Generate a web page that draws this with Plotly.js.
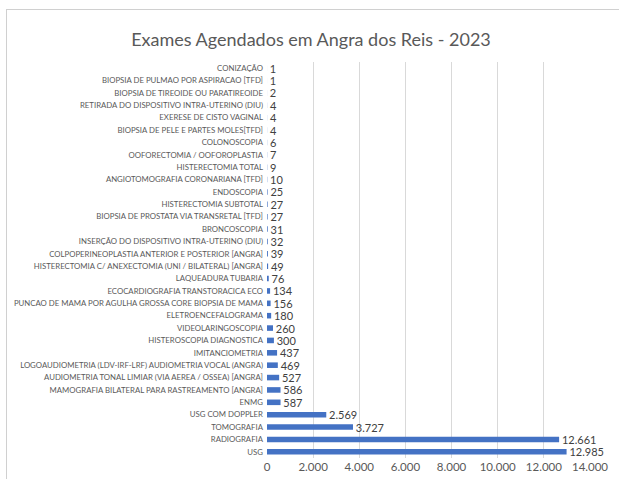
<!DOCTYPE html>
<html>
<head>
<meta charset="utf-8">
<script src="https://cdn.plot.ly/plotly-3.0.1.min.js"></script>
<style>
html,body{margin:0;padding:0;background:#fff;}
#wrap{position:relative;width:619px;height:479px;overflow:hidden;}
#chart{position:absolute;left:0;top:0;width:619px;height:479px;}
#frame{position:absolute;left:6px;top:9px;width:620px;height:480px;border-left:1px solid #d0d0d0;border-top:1px solid #d0d0d0;pointer-events:none;}
</style>
</head>
<body>
<div id="wrap"><div id="chart"></div><div id="frame"></div></div>
<script>
const categories = [
  "CONIZAÇÃO",
  "BIOPSIA DE PULMAO POR ASPIRACAO [TFD]",
  "BIOPSIA DE TIREOIDE OU PARATIREOIDE",
  "RETIRADA DO DISPOSITIVO INTRA-UTERINO (DIU)",
  "EXERESE DE CISTO VAGINAL",
  "BIOPSIA DE PELE E PARTES MOLES[TFD]",
  "COLONOSCOPIA",
  "OOFORECTOMIA / OOFOROPLASTIA",
  "HISTERECTOMIA TOTAL",
  "ANGIOTOMOGRAFIA CORONARIANA [TFD]",
  "ENDOSCOPIA",
  "HISTERECTOMIA SUBTOTAL",
  "BIOPSIA DE PROSTATA VIA TRANSRETAL [TFD]",
  "BRONCOSCOPIA",
  "INSERÇÃO DO DISPOSITIVO INTRA-UTERINO (DIU)",
  "COLPOPERINEOPLASTIA ANTERIOR E POSTERIOR [ANGRA]",
  "HISTERECTOMIA C/ ANEXECTOMIA (UNI / BILATERAL) [ANGRA]",
  "LAQUEADURA TUBARIA",
  "ECOCARDIOGRAFIA TRANSTORACICA ECO",
  "PUNCAO DE MAMA POR AGULHA GROSSA CORE BIOPSIA DE MAMA",
  "ELETROENCEFALOGRAMA",
  "VIDEOLARINGOSCOPIA",
  "HISTEROSCOPIA DIAGNOSTICA",
  "IMITANCIOMETRIA",
  "LOGOAUDIOMETRIA (LDV-IRF-LRF) AUDIOMETRIA VOCAL (ANGRA)",
  "AUDIOMETRIA TONAL LIMIAR (VIA AEREA / OSSEA) [ANGRA]",
  "MAMOGRAFIA BILATERAL PARA RASTREAMENTO [ANGRA]",
  "ENMG",
  "USG COM DOPPLER",
  "TOMOGRAFIA",
  "RADIOGRAFIA",
  "USG"
];
const values = [1,1,2,4,4,4,6,7,9,10,25,27,27,31,32,39,49,76,134,156,180,260,300,437,469,527,586,587,2569,3727,12661,12985];
const xTicks = [0,2000,4000,6000,8000,10000,12000,14000];
const chartTitle = "Exames Agendados em Angra dos Reis - 2023";

const trace = {
  type: 'bar',
  orientation: 'h',
  y: categories,
  x: values,
  marker: {color: '#4472C4'},
  texttemplate: '\u00a0%{x:,d}',
  textposition: 'outside',
  cliponaxis: false,
  constraintext: 'none',
  textfont: {family: 'Lato, sans-serif', size: 11, color: '#404040'},
  hoverinfo: 'none'
};

const layout = {
  width: 619,
  height: 479,
  separators: ',.',
  paper_bgcolor: '#ffffff',
  plot_bgcolor: '#ffffff',
  margin: {l: 267, r: 29, t: 62, b: 21, pad: 0},
  bargap: 0.55,
  showlegend: false,
  title: {
    text: chartTitle,
    x: 311/619, xref: 'container', xanchor: 'center',
    y: 1 - 40/479, yref: 'container', yanchor: 'middle',
    font: {family: 'Lato, sans-serif', size: 18, color: '#595959'}
  },
  shapes: [{
    type: 'line', xref: 'x', yref: 'paper',
    x0: xTicks[0], x1: xTicks[0], y0: 0, y1: 1,
    line: {color: '#ffffff', width: 2},
    layer: 'below'
  }],
  xaxis: {
    range: [0, 14000],
    tickvals: xTicks,
    tickformat: ',d',
    showgrid: true,
    gridcolor: '#d9d9d9',
    gridwidth: 1,
    zeroline: false,
    showline: false,
    ticks: '',
    tickfont: {family: 'Lato, sans-serif', size: 11.5, color: '#595959'},
    fixedrange: true
  },
  yaxis: {
    type: 'category',
    autorange: 'reversed',
    showgrid: false,
    zeroline: false,
    showline: false,
    ticks: '',
    ticklabelstandoff: 3,
    tickfont: {family: 'Lato, sans-serif', size: 7.8, color: '#595959'},
    fixedrange: true
  }
};

Plotly.newPlot('chart', [trace], layout, {displayModeBar: false, staticPlot: true});
</script>
</body>
</html>
